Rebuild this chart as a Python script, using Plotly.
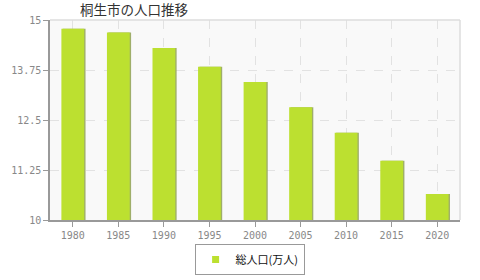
import plotly.graph_objects as go

years = ["1980", "1985", "1990", "1995", "2000", "2005", "2010", "2015", "2020"]
population = [14.78, 14.69, 14.30, 13.83, 13.45, 12.82, 12.18, 11.48, 10.65]
y_ticks = [10, 11.25, 12.5, 13.75, 15]
y_tick_labels = ["10", "11.25", "12.5", "13.75", "15"]
series_name = "総人口(万人)"
title_text = "桐生市の人口推移"

bar_color = "#bce030"

fig = go.Figure()
# subtle shadow on right side of bars
fig.add_trace(go.Bar(
    x=years, y=population, width=0.5, offset=-0.22,
    marker=dict(color="#9fae6a", line=dict(width=0)),
    showlegend=False, hoverinfo="skip",
))
fig.add_trace(go.Bar(
    x=years, y=population, width=0.5, offset=-0.25,
    name=series_name, showlegend=False,
    marker=dict(color=bar_color, line=dict(width=0)),
))
# legend entry with small square marker
fig.add_trace(go.Scatter(
    x=[None], y=[None], mode="markers", name=series_name,
    marker=dict(symbol="square", size=7, color=bar_color),
))

fig.update_layout(
    width=480, height=280,
    margin=dict(l=50, r=20, t=20, b=60, autoexpand=False),
    paper_bgcolor="white",
    plot_bgcolor="#f9f9f9",
    barmode="overlay",
    title=dict(text=title_text, x=80/480, xanchor="left", y=1 - 10/280, yanchor="middle",
               font=dict(family="Noto Sans CJK JP", size=13.5, color="#333")),
    showlegend=True,
    legend=dict(orientation="h", x=0.52, xanchor="center",
                xref="container", yref="container", y=1 - 244/280, yanchor="top",
                bgcolor="white", bordercolor="#999", borderwidth=1,
                itemsizing="trace",
                font=dict(family="Noto Sans CJK JP", size=11, color="#111"),
                itemwidth=30, tracegroupgap=0),
    shapes=[
        dict(type="line", xref="paper", yref="paper", x0=0, x1=1, y0=1, y1=1,
             line=dict(color="#dddddd", width=1.5)),
        dict(type="line", xref="paper", yref="paper", x0=1, x1=1, y0=0, y1=1,
             line=dict(color="#dddddd", width=1.5)),
    ],
)
fig.update_xaxes(
    type="category",
    showgrid=True, gridcolor="#e2e2e2", griddash="dash", gridwidth=1,
    showline=True, linecolor="#999", linewidth=1.5,
    ticks="outside", ticklen=5, tickcolor="#999",
    tickfont=dict(family="DejaVu Sans Mono", size=10, color="#888"),
)
fig.update_yaxes(
    range=[10, 15],
    tickvals=y_ticks, ticktext=y_tick_labels,
    showgrid=True, gridcolor="#e2e2e2", griddash="dash", gridwidth=1,
    showline=True, linecolor="#999", linewidth=1.5,
    ticks="outside", ticklen=5, tickcolor="#999",
    tickfont=dict(family="DejaVu Sans Mono", size=10, color="#888"),
    zeroline=False,
)

fig.write_html("out.html")
